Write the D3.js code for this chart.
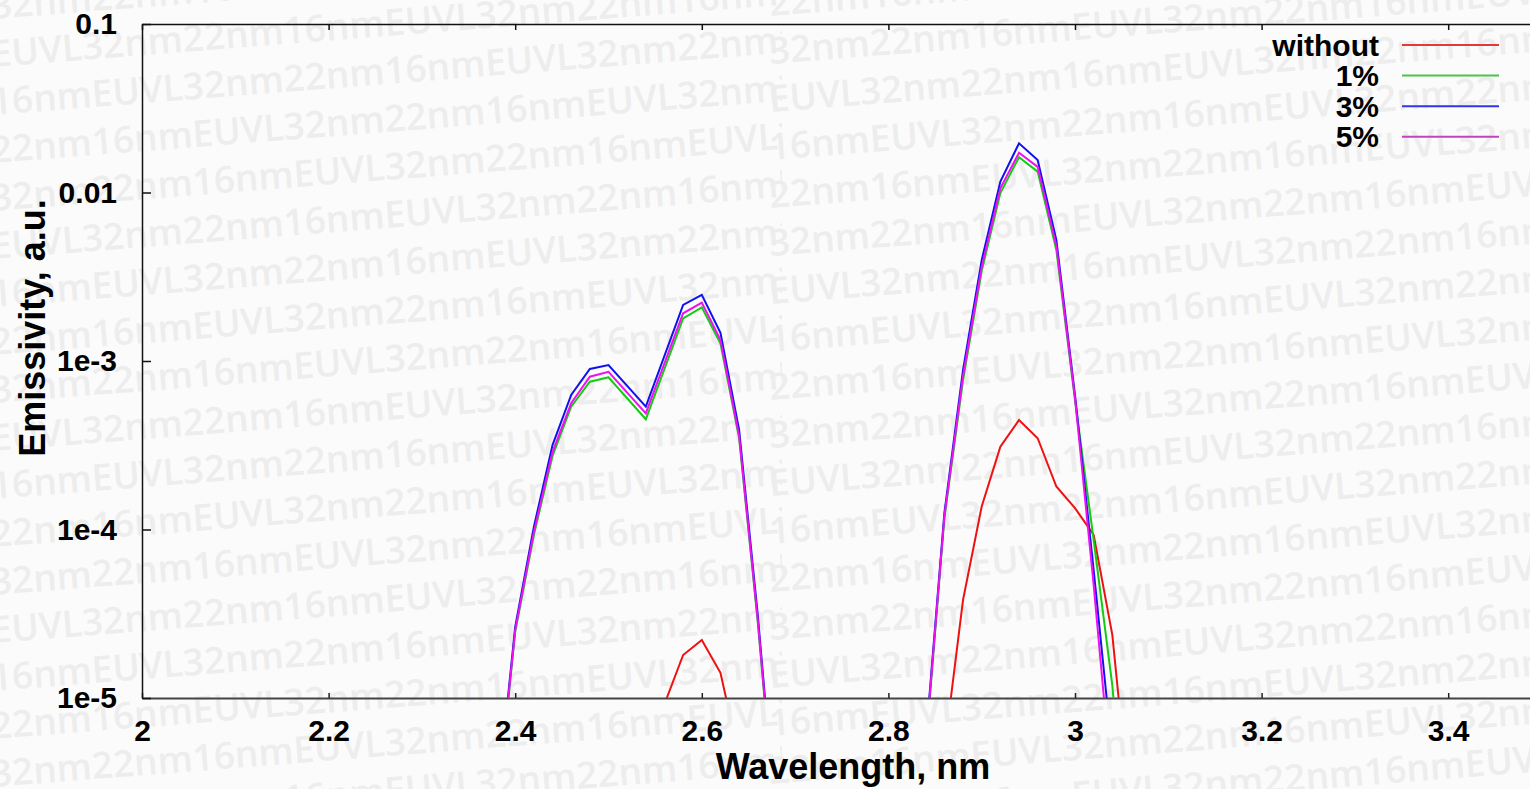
<!DOCTYPE html>
<html><head><meta charset="utf-8">
<script src="https://cdn.jsdelivr.net/npm/d3@7"></script>
<style>
html,body{margin:0;padding:0;background:#fbfbfb;}
svg{display:block;}
</style></head><body>
<svg id="chart" width="1530" height="789"></svg>
<script>
// ---------- data ----------
const seriesNames = ["without", "1%", "3%", "5%"];

const xTicks = [2, 2.2, 2.4, 2.6, 2.8, 3, 3.2, 3.4];
const xTickLabels = ["2", "2.2", "2.4", "2.6", "2.8", "3", "3.2", "3.4"];
const yTicks = [0.1, 0.01, 1e-3, 1e-4, 1e-5];
const yTickLabels = ["0.1", "0.01", "1e-3", "1e-4", "1e-5"];

// first band (2.4 - 2.66 nm)
const wlPeak1 = [2.38, 2.40, 2.42, 2.44, 2.46, 2.48, 2.50, 2.54, 2.58, 2.60, 2.62, 2.64, 2.66, 2.68];
const pct1Peak1 = [2.05e-6, 2.47e-5, 9.27e-5, 2.73e-4, 5.36e-4, 7.54e-4, 8.00e-4, 4.51e-4, 1.79e-3, 2.08e-3, 1.27e-3, 3.49e-4, 2.82e-5, 1.54e-6];
const pct3Peak1 = [2.20e-6, 2.64e-5, 1.035e-4, 3.17e-4, 6.29e-4, 8.97e-4, 9.46e-4, 5.36e-4, 2.15e-3, 2.47e-3, 1.47e-3, 3.90e-4, 3.10e-5, 1.67e-6];
const pct5Peak1 = [2.10e-6, 2.53e-5, 9.66e-5, 2.88e-4, 5.61e-4, 8.07e-4, 8.63e-4, 4.89e-4, 1.92e-3, 2.22e-3, 1.33e-3, 3.59e-4, 2.90e-5, 1.60e-6];
const wlWithoutPeak1 = [2.56, 2.58, 2.60, 2.62, 2.64];
const withoutPeak1 = [9.2e-6, 1.8e-5, 2.21e-5, 1.41e-5, 4.5e-6];

// second band (2.84 - 3.06 nm)
const wlPeak2 = [2.84, 2.86, 2.88, 2.90, 2.92, 2.94, 2.96, 2.98, 3.00, 3.02, 3.04, 3.06];
const withoutPeak2 = [null, 4.9e-6, 3.82e-5, 1.37e-4, 3.10e-4, 4.47e-4, 3.48e-4, 1.80e-4, 1.34e-4, 9.3e-5, 2.37e-5, 1.84e-6];
const pct1Peak2 = [5.05e-6, 1.17e-4, 7.71e-4, 3.42e-3, 9.93e-3, 1.62e-2, 1.33e-2, 4.56e-3, 5.87e-4, 8.67e-5, 1.19e-5, 6.3e-7];
const pct3Peak2 = [5.5e-6, 1.25e-4, 8.85e-4, 3.97e-3, 1.16e-2, 1.96e-2, 1.56e-2, 5.23e-3, 6.28e-4, 5.75e-5, 4.65e-6, null];
const pct5Peak2 = [5.26e-6, 1.20e-4, 8.15e-4, 3.61e-3, 1.06e-2, 1.72e-2, 1.42e-2, 4.81e-3, 6.03e-4, 4.69e-5, 2.84e-6, null];

const watermarkText = "EUVL32nm22nm16nm";

// ---------- styles ----------
const colors = {"without": "#ee1111", "1%": "#11cc11", "3%": "#1111ee", "5%": "#ee11ee"};
const legendColors = {"without": "#e03a3a", "1%": "#4cc44c", "3%": "#3333ee", "5%": "#c044c0"};
const FONT = "'Liberation Sans', Arial, sans-serif";

// ---------- layout ----------
const W = 1530, H = 789;
const mLeft = 142, mTop = 24, mBottom = 698, mRight = 1541.5;

const svg = d3.select("#chart");
svg.append("rect").attr("width", W).attr("height", H).attr("fill", "#fbfbfb");

// watermark
const defs = svg.append("defs");
defs.append("clipPath").attr("id", "wmL").append("rect").attr("x", 0).attr("y", 0).attr("width", 782).attr("height", H);
defs.append("clipPath").attr("id", "wmR").append("rect").attr("x", 768).attr("y", 0).attr("width", W).attr("height", H);
defs.append("clipPath").attr("id", "plotClip").append("rect")
  .attr("x", mLeft).attr("y", mTop).attr("width", mRight - mLeft).attr("height", mBottom - mTop);

const tiles = [{x0: -8, b0: 19, clip: "wmL"}, {x0: 770, b0: 64, clip: "wmR"}];
tiles.forEach(t => {
  const g = svg.append("g").attr("clip-path", `url(#${t.clip})`)
    .attr("fill", "#ededed")
    .style("font-family", "'Open Sans', sans-serif").style("font-weight", "600").style("font-size", "37px");
  for (let k = -2; k < 20; k++) {
    const b = t.b0 + 48 * k;
    const off = (((4 - 4 * k) % 16) + 16) % 16;
    const s = watermarkText.repeat(5).slice(off, off + 44);
    g.append("text").attr("x", t.x0).attr("y", b)
      .attr("transform", `rotate(-4.5 ${t.x0} ${b})`).text(s);
  }
});

// scales
const x = d3.scaleLinear().domain([2, 3.5]).range([mLeft, mRight]);
const y = d3.scaleLog().domain([1e-5, 0.1]).range([mBottom, mTop]);

// axes
const gx = svg.append("g").attr("transform", `translate(0,${mBottom})`)
  .call(d3.axisBottom(x).tickValues(xTicks).tickFormat((d, i) => xTickLabels[i])
    .tickSizeInner(-5).tickSizeOuter(0).tickPadding(22));
gx.select(".domain").attr("stroke", "#444").attr("stroke-width", 2);
gx.selectAll(".tick line").attr("stroke", "#222").attr("stroke-width", 1.5);
gx.selectAll("text").attr("fill", "#000").style("font-family", FONT).style("font-weight", "bold").style("font-size", "30px");

const gt = svg.append("g").attr("transform", `translate(0,${mTop})`)
  .call(d3.axisTop(x).tickValues(xTicks).tickFormat("").tickSizeInner(-6).tickSizeOuter(0));
gt.select(".domain").attr("stroke", "#111").attr("stroke-width", 1.5);
gt.selectAll(".tick line").attr("stroke", "#111").attr("stroke-width", 1.5);

const gy = svg.append("g").attr("transform", `translate(${mLeft},0)`)
  .call(d3.axisLeft(y).tickValues(yTicks).tickFormat((d, i) => yTickLabels[i])
    .tickSizeInner(-9).tickSizeOuter(0).tickPadding(25));
gy.select(".domain").attr("stroke", "#111").attr("stroke-width", 1.5);
gy.selectAll(".tick line").attr("stroke", "#111").attr("stroke-width", 1.5);
gy.selectAll("text").attr("fill", "#000").style("font-family", FONT).style("font-weight", "bold").style("font-size", "30px");

// axis titles
svg.append("text").attr("x", 853).attr("y", 779).attr("text-anchor", "middle")
  .style("font-family", FONT).style("font-weight", "bold").style("font-size", "36px")
  .text("Wavelength, nm");
svg.append("text").attr("transform", "translate(45,328) rotate(-90)").attr("text-anchor", "middle")
  .style("font-family", FONT).style("font-weight", "bold").style("font-size", "36px")
  .text("Emissivity, a.u.");

// lines
const plot = svg.append("g").attr("clip-path", "url(#plotClip)");
const line = d3.line().defined(d => d[1] != null).x(d => x(d[0])).y(d => y(d[1]));
const zip = (a, b) => a.map((v, i) => [v, b[i]]);

const segments = [
  {name: "without", data: zip(wlWithoutPeak1, withoutPeak1)},
  {name: "without", data: zip(wlPeak2, withoutPeak2)},
  {name: "1%", data: zip(wlPeak1, pct1Peak1)},
  {name: "1%", data: zip(wlPeak2, pct1Peak2)},
  {name: "3%", data: zip(wlPeak1, pct3Peak1)},
  {name: "3%", data: zip(wlPeak2, pct3Peak2)},
  {name: "5%", data: zip(wlPeak1, pct5Peak1)},
  {name: "5%", data: zip(wlPeak2, pct5Peak2)}
];
segments.forEach(s => {
  plot.append("path").attr("d", line(s.data)).attr("fill", "none")
    .attr("stroke", colors[s.name]).attr("stroke-width", 2).attr("stroke-linejoin", "miter");
});

// legend
const lg = svg.append("g");
seriesNames.forEach((n, i) => {
  const cy = 45 + i * 30.6;
  lg.append("text").attr("x", 1379).attr("y", cy + 10.5).attr("text-anchor", "end")
    .style("font-family", FONT).style("font-weight", "bold").style("font-size", "30px").text(n);
  lg.append("line").attr("x1", 1402).attr("x2", 1499).attr("y1", cy).attr("y2", cy)
    .attr("stroke", legendColors[n]).attr("stroke-width", 2);
});
</script>
</body></html>
